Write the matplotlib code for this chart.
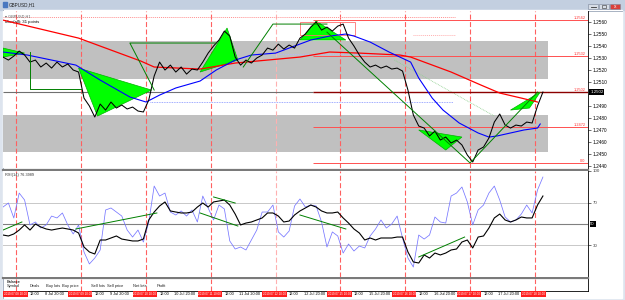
import numpy as np
import matplotlib.pyplot as plt
import matplotlib.transforms as mtransforms
from matplotlib.patches import Rectangle, Polygon

plt.rcParams['font.family'] = ['Liberation Sans', 'DejaVu Sans']

# H1 chart, one reading every 2 hours (hour 0 = first bar on screen)
hours = np.arange(0, 201, 2)
close = [1.25308, 1.25283, 1.25316, 1.25358, 1.25325, 1.25266, 1.25283, 1.25225, 1.25258, 1.25216,
         1.25266, 1.25225, 1.25250, 1.25200, 1.25183, 1.24966, 1.24900, 1.24808, 1.24916, 1.24866,
         1.24933, 1.24883, 1.24908, 1.24875, 1.24891, 1.24858, 1.24850, 1.24950, 1.25150, 1.25266,
         1.25200, 1.25241, 1.25183, 1.25225, 1.25166, 1.25208, 1.25200, 1.25266, 1.25341, 1.25400,
         1.25450, 1.25525, 1.25483, 1.25308, 1.25241, 1.25283, 1.25258, 1.25300, 1.25325, 1.25383,
         1.25366, 1.25416, 1.25375, 1.25408, 1.25383, 1.25466, 1.25500, 1.25558, 1.25600, 1.25533,
         1.25558, 1.25525, 1.25566, 1.25583, 1.25466, 1.25400, 1.25325, 1.25266, 1.25225, 1.25241,
         1.25216, 1.25233, 1.25208, 1.25216, 1.25191, 1.25033, 1.24825, 1.24733, 1.24716, 1.24650,
         1.24691, 1.24616, 1.24641, 1.24591, 1.24616, 1.24575, 1.24491, 1.24433, 1.24533, 1.24558,
         1.24633, 1.24766, 1.24833, 1.24741, 1.24716, 1.24741, 1.24733, 1.24766, 1.24758, 1.24900,
         1.25016]
rsi_slow = [39.6, 38.7, 40.6, 44.3, 49.1, 44.3, 50.0, 47.2, 45.3, 44.3,
            45.3, 46.2, 45.3, 44.3, 41.5, 28.3, 23.6, 21.7, 34.9, 34.9,
            36.8, 38.7, 35.8, 34.9, 34.0, 34.0, 35.8, 53.8, 61.3, 67.0,
            70.8, 62.3, 61.3, 60.4, 60.4, 61.3, 66.0, 69.8, 66.0, 70.8,
            71.7, 72.6, 67.9, 59.4, 49.1, 50.9, 51.9, 53.8, 55.7, 60.4,
            60.4, 57.5, 51.9, 52.8, 58.5, 62.3, 65.1, 67.9, 66.0, 62.3,
            60.4, 60.4, 61.3, 55.7, 50.9, 45.3, 41.5, 34.9, 36.8, 34.9,
            36.8, 36.8, 36.8, 37.7, 37.7, 23.6, 14.2, 13.2, 20.8, 17.9,
            22.6, 20.8, 22.6, 25.5, 26.4, 33.0, 34.9, 27.4, 37.7, 38.7,
            46.2, 55.7, 59.4, 53.8, 51.9, 53.8, 56.6, 55.7, 55.7, 67.9,
            76.4]
rsi_fast = [66.0, 69.8, 55.7, 79.2, 72.6, 49.1, 51.9, 46.2, 49.1, 57.5,
            55.7, 60.4, 49.1, 40.6, 49.1, 23.6, 12.3, 17.9, 25.5, 63.2,
            65.1, 61.3, 57.5, 44.3, 37.7, 44.3, 33.0, 51.9, 85.8, 76.4,
            79.2, 61.3, 58.5, 62.3, 57.5, 63.2, 51.9, 76.4, 65.1, 53.8,
            67.9, 64.2, 34.0, 26.4, 28.3, 25.5, 34.9, 44.3, 61.3, 61.3,
            67.9, 42.5, 37.7, 43.4, 67.0, 73.6, 66.0, 67.9, 67.0, 51.9,
            28.3, 42.5, 38.7, 22.6, 31.1, 24.5, 29.2, 27.4, 38.7, 45.3,
            53.8, 46.2, 50.0, 57.5, 36.8, 17.9, 9.4, 39.6, 35.8, 39.6,
            56.6, 51.9, 50.9, 76.4, 79.2, 84.9, 70.8, 49.1, 63.2, 67.9,
            79.2, 85.8, 72.6, 56.6, 51.9, 53.8, 59.4, 67.9, 60.4, 82.1,
            94.3]

ma_blue_h = [0, 9, 27, 36, 47, 53, 58, 64, 73, 79, 86, 92, 101, 106, 114, 121,
             127, 130, 136, 143, 151, 154, 159, 163, 169, 176, 180, 183, 188, 193, 198, 199]
ma_blue = [1.25350, 1.25325, 1.25241, 1.25116, 1.24975, 1.24933, 1.24991, 1.25050,
           1.25108, 1.25200, 1.25283, 1.25325, 1.25341, 1.25383, 1.25450, 1.25483,
           1.25500, 1.25483, 1.25433, 1.25350, 1.25266, 1.25133, 1.24966, 1.24866,
           1.24758, 1.24675, 1.24641, 1.24650, 1.24675, 1.24700, 1.24716, 1.24750]
ma_red_h = [0, 28, 51, 56, 73, 86, 110, 121, 132, 147, 151, 166, 177, 184, 192, 198]
ma_red = [1.25616, 1.25466, 1.25275, 1.25225, 1.25208, 1.25258, 1.25308, 1.25350,
          1.25341, 1.25325, 1.25308, 1.25183, 1.25075, 1.25008, 1.24966, 1.24933]

day_h = [5, 29, 53, 77, 101, 125, 149, 173, 197]
day_names = ['8 Jul', '9 Jul', '10 Jul', '11 Jul', '12 Jul', '15 Jul', '16 Jul', '17 Jul', '18 Jul']
day_stamp = ['2019.07.08', '2019.07.09', '2019.07.10', '2019.07.11', '2019.07.12',
             '2019.07.15', '2019.07.16', '2019.07.17', '2019.07.18']

price_ticks = [1.2560, 1.2550, 1.2540, 1.2530, 1.2520, 1.2510, 1.2500,
               1.2490, 1.2480, 1.2470, 1.2460, 1.2450, 1.2440]
levels = [1.25616, 1.25316, 1.24725, 1.24425]
level_txt = ['1.2562', '1.2532', '1.2472', '0.0']
last_price = 1.25016
band_lo = [1.25125, 1.24516]
band_hi = [1.25441, 1.24825]

triangles = [[(0, 1.25383), (8, 1.25341), (0, 1.25308)],
             [(28, 1.25216), (35, 1.24816), (55, 1.25033)],
             [(73, 1.25183), (83, 1.25550), (87, 1.25283)],
             [(110, 1.25450), (116, 1.25608), (127, 1.25450)],
             [(154, 1.24700), (170, 1.24641), (164, 1.24533)],
             [(188, 1.24866), (199, 1.25016), (195, 1.24883)]]
zigzags = [[(10, 1.25350), (10, 1.25041), (29, 1.25041)],
           [(56, 1.25033), (47, 1.25425), (79, 1.25425)],
           [(89, 1.25225), (100, 1.25583), (120, 1.25583)],
           [(120, 1.25516), (173, 1.24425), (198, 1.25016)]]
rsi_trend = [[(0, 44.3), (7, 51.9)], [(27, 45.3), (57, 60.4)], [(78, 75.5), (86, 69.8)],
             [(73, 60.4), (87, 48.1)], [(110, 58.5), (127, 45.3)], [(154, 18.9), (171, 37.7)]]

W, H = 625, 300
XMAX = 216.7


def frac(x0, y0, x1, y1):
    return [x0 / W, 1 - y1 / H, (x1 - x0) / W, (y1 - y0) / H]


fig = plt.figure(figsize=(6.25, 3.0), dpi=100)

# window chrome
bg = fig.add_axes([0, 0, 1, 1])
bg.set_xlim(0, W)
bg.set_ylim(H, 0)
bg.axis('off')
bg.add_patch(Rectangle((0, 0), W, H, color='#dde4ee'))
bg.add_patch(Rectangle((0, 0), W, 10, color='#c3cfe0'))
bg.add_patch(Rectangle((3, 10), 619, 288, color='white'))
bg.plot([3, 622], [10.5, 10.5], color='#9aa6b8', lw=0.6)
bg.plot([3, 3], [10, 298], color='#9aa6b8', lw=0.6)
bg.add_patch(Rectangle((3, 2), 3.5, 5, color='#4a78c0'))
bg.text(9, 5, 'GBPUSD,H1', fontsize=3.3, va='center', color='#202020')
for x0, c in [(588, '#d7dde6'), (599, '#d7dde6'), (610, '#d9403a')]:
    bg.add_patch(Rectangle((x0, 3.5), 10, 5.5, fc=c, ec='#7a8598', lw=0.4))
bg.plot([591, 596], [7.3, 7.3], color='#333333', lw=0.6)
bg.add_patch(Rectangle((602, 4.8), 4, 3, fc='none', ec='#333333', lw=0.4))
bg.text(615, 6.3, 'x', fontsize=3.5, color='white', ha='center', va='center')
bg.plot([588, 588], [11, 291], color='black', lw=0.6)
bg.plot([3, 588], [291, 291], color='black', lw=0.6)
bg.plot([3, 588], [169.5, 169.5], color='#7a7a7a', lw=1.6)
bg.plot([3, 588], [278, 278], color='#7a7a7a', lw=1.6)
bg.plot([545], [12.5], marker='v', ms=2, color='black')

dash = (0, (4.5, 2.2))
day_col = ['#ff6060', '#ff6060', '#ff6060', '#ff6060', '#ffb0b0',
           '#ff6060', '#ff6060', '#ff6060', '#ff6060']

# ---------------- price panel
ax = fig.add_axes(frac(3, 11, 588, 168))
ax.set_facecolor('white')
ax.set_xlim(0, XMAX)
ax.set_ylim(1.24383, 1.25692)
for i in range(2):
    ax.fill_between([0, 201.9], band_lo[i], band_hi[i], color='#c0c0c0', lw=0, zorder=1)
for h, c in zip(day_h, day_col):
    ax.axvline(h, color=c, lw=0.8, ls=dash, zorder=2)
ax.hlines(1.25641, 0, 167.4, color='#ff9090', lw=0.7, ls=(0, (1, 1)), zorder=2)
ax.hlines(1.25492, 151.9, 167.4, color='#ffb0b0', lw=0.7, ls=(0, (1, 1)), zorder=2)
ax.hlines(1.24933, 54.4, 166.7, color='#8090ff', lw=0.6, ls=(0, (1, 1)), zorder=2)
ax.hlines(1.25333, 101, 151, color='#b0b8ff', lw=0.6, ls=(0, (1, 1)), zorder=2)
ax.plot([145, 182], [1.25283, 1.24816], color='#90d090', lw=0.6, ls=(0, (1, 1)), zorder=2)
ax.hlines(levels, 114.8, XMAX, color='#ff5050', lw=0.7, zorder=2)
ax.hlines(last_price, 0, 114.8, color='#707070', lw=0.8, zorder=2)
ax.hlines(last_price, 114.8, XMAX, color='#8b0000', lw=1.0, zorder=2)
for lv, t in zip(levels + [last_price], level_txt + ['1.2502']):
    ax.text(XMAX - 1, lv, t, fontsize=2.8, color='#ff3030', ha='right', va='bottom', zorder=3)
for tri in triangles:
    ax.add_patch(Polygon(tri, closed=True, fc='#00ff00', ec='#00b000', lw=0.5, zorder=3))
ax.add_patch(Rectangle((110, 1.25492), 20.4, 0.00108, fc='none', ec='#ff7070', lw=0.6, zorder=3))
ax.plot(ma_red_h, ma_red, color='#ff0000', lw=0.9, zorder=4)
ax.plot(ma_blue_h, ma_blue, color='#0000ff', lw=0.8, zorder=4)
ax.plot(hours, close, color='black', lw=0.75, zorder=5)
for z in zigzags:
    xs, ys = zip(*z)
    ax.plot(xs, ys, color='#008000', lw=0.7, zorder=6)
ax.yaxis.tick_right()
ax.set_yticks(price_ticks)
# the last-price box sits on the 1.2500 row
ax.set_yticklabels(['' if p == 1.2500 else '%.4f' % p for p in price_ticks])
ax.tick_params(axis='y', labelsize=3.4, length=2, width=0.4, pad=1.5)
ax.set_xticks([])
for s in ax.spines.values():
    s.set_visible(False)
blend = mtransforms.blended_transform_factory(ax.transAxes, ax.transData)
ax.text(1.004, last_price, '1.2502', transform=blend, fontsize=3.2, color='white',
        va='center', ha='left', bbox=dict(boxstyle='square,pad=0.2', fc='black', ec='none'))
ax.text(0.004, 0.975, '\u25be GBPUSD,H1', transform=ax.transAxes, fontsize=2.8, color='#606060', va='top')
ax.text(0.004, 0.945, 'Max(all): 31 points', transform=ax.transAxes, fontsize=3.1, color='black', va='top')

# ---------------- RSI panel
ar = fig.add_axes(frac(3, 171, 588, 277))
ar.set_xlim(0, XMAX)
ar.set_ylim(0, 100)
ar.axhline(70, color='#c8c8c8', lw=0.7)
ar.axhline(30, color='#c8c8c8', lw=0.7)
ar.axhline(50, color='#808080', lw=0.8)
for h, c in zip(day_h, day_col):
    ar.axvline(h, color=c, lw=0.8, ls=dash, zorder=2)
ar.plot(hours, rsi_fast, color='#7777ff', lw=0.55, zorder=3)
ar.plot(hours, rsi_slow, color='black', lw=0.8, zorder=4)
for seg in rsi_trend:
    xs, ys = zip(*seg)
    ar.plot(xs, ys, color='#008000', lw=0.7, zorder=5)
ar.yaxis.tick_right()
ar.set_yticks([100, 70, 30])
ar.set_yticklabels(['100', '70', '30'])
ar.tick_params(axis='y', labelsize=3.2, length=2, width=0.4, pad=1.5, labelcolor='#404040')
ar.set_xticks([])
for s in ar.spines.values():
    s.set_visible(False)
rblend = mtransforms.blended_transform_factory(ar.transAxes, ar.transData)
ar.text(1.004, 50, '50', transform=rblend, fontsize=3.0, color='white', va='center',
        bbox=dict(boxstyle='square,pad=0.2', fc='black', ec='none'))
ar.text(0.004, 0.985, 'RSI(14) 76.3989', transform=ar.transAxes, fontsize=2.8, va='top', color='#303030')

# ---------------- trade panel + time axis
ab = fig.add_axes(frac(3, 279, 588, 291))
ab.set_xlim(0, XMAX)
ab.set_ylim(0, 1)
ab.axis('off')
for h, c in zip(day_h, day_col):
    ab.axvline(h, color=c, lw=0.8, ls=dash, zorder=2)
ab.text(0.006, 0.78, 'Balance', transform=ab.transAxes, fontsize=2.8, va='center')
cols = ['Symbol', 'Deals', 'Buy lots', 'Buy price', 'Sell lots', 'Sell price', 'Net lots', 'Profit']
col_x = [1.5, 10, 16, 22, 32.5, 38.5, 48, 57]
for cx, t in zip(col_x, cols):
    ab.text(cx, 0.4, t, fontsize=2.9, va='center', color='#202020', zorder=3)
tb = mtransforms.blended_transform_factory(ab.transData, ab.transAxes)
for h, nm, st in zip(day_h, day_names, day_stamp):
    ab.text(h - 0.4, -0.25, st + ' 10:00', transform=tb, fontsize=2.2, color='white', ha='center',
            va='center', clip_on=False, zorder=5,
            bbox=dict(boxstyle='square,pad=0.25', fc='#ff2020', ec='none'))
    if h == day_h[-1]:
        continue
    ab.text(h + 5.0, -0.25, '12:00', transform=tb, fontsize=2.8, va='center', clip_on=False)
    ab.text(h + 10.5, -0.25, nm + ' 20:00', transform=tb, fontsize=2.8, va='center', clip_on=False)

fig.savefig('out.png', dpi=100)
